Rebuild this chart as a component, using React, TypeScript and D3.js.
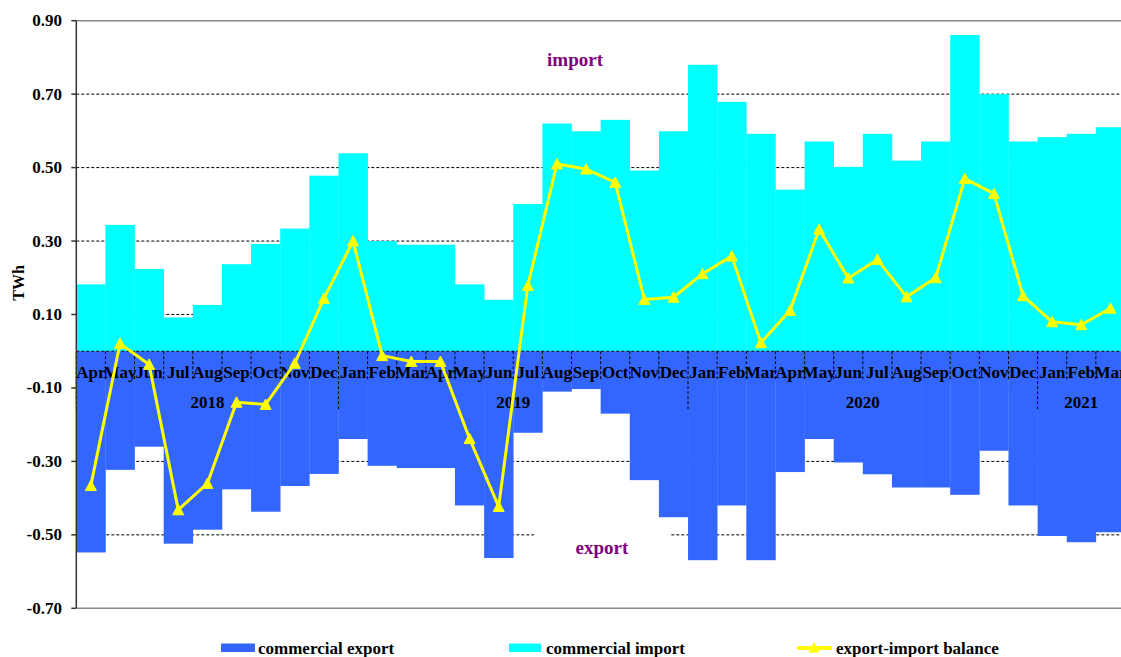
import React from "react";
import * as d3 from "d3";

const months = ["Apr","May","Jun","Jul","Aug","Sep","Oct","Nov","Dec","Jan","Feb","Mar","Apr","May","Jun","Jul","Aug","Sep","Oct","Nov","Dec","Jan","Feb","Mar","Apr","May","Jun","Jul","Aug","Sep","Oct","Nov","Dec","Jan","Feb","Mar"];
const years = ["2018", "2019", "2020", "2021"];
const importValues = [0.182,0.344,0.224,0.092,0.126,0.237,0.292,0.334,0.478,0.539,0.300,0.290,0.290,0.182,0.140,0.401,0.620,0.599,0.630,0.492,0.599,0.780,0.679,0.592,0.440,0.571,0.502,0.592,0.519,0.571,0.861,0.700,0.571,0.583,0.592,0.610];
const exportValues = [-0.548,-0.323,-0.260,-0.524,-0.486,-0.376,-0.437,-0.367,-0.334,-0.239,-0.312,-0.318,-0.318,-0.420,-0.563,-0.222,-0.110,-0.103,-0.170,-0.351,-0.452,-0.569,-0.420,-0.569,-0.329,-0.239,-0.303,-0.335,-0.371,-0.371,-0.391,-0.271,-0.420,-0.503,-0.520,-0.493];
const balanceValues = [-0.366,0.021,-0.036,-0.432,-0.360,-0.139,-0.145,-0.033,0.144,0.300,-0.012,-0.028,-0.028,-0.238,-0.423,0.179,0.510,0.496,0.460,0.141,0.147,0.211,0.259,0.023,0.111,0.332,0.199,0.250,0.148,0.200,0.470,0.429,0.151,0.080,0.072,0.117];
const yTicks = [-0.7, -0.5, -0.3, -0.1, 0.1, 0.3, 0.5, 0.7, 0.9];
const legendLabels = ["commercial export", "commercial import", "export-import balance"];

const W = 1121, H = 657;
const FONT = "'Liberation Serif', 'Times New Roman', serif";
const BLUE = "#3366FF", CYAN = "#00FFFF", YELLOW = "#FFFF00", PURPLE = "#800080";

export default function App() {
  const x = d3.scaleBand<number>().domain(d3.range(months.length)).range([76.3, 1125]).padding(0);
  const y = d3.scaleLinear().domain([-0.7, 0.9]).range([608.3, 20.7]);
  const y0 = y(0);
  const bw = x.bandwidth();
  const xl = x(0)!;

  const line = d3.line<number>().x((_, i) => x(i)! + bw / 2).y(d => y(d));

  // year groups
  const boundaries: number[] = [0];
  months.forEach((m, i) => { if (m === "Jan" && i > 0) boundaries.push(i); });
  boundaries.push(months.length);

  const tri = (cx: number, cy: number, s = 5.5) =>
    `M${cx},${cy - s} L${cx + s},${cy + s * 0.9} L${cx - s},${cy + s * 0.9} Z`;

  return (
    <svg width={W} height={H} style={{ position: "absolute", left: 0, top: 0, background: "#fff" }} fontFamily={FONT}>
      {/* gridlines */}
      {yTicks.map((t, i) => {
        const edge = i === 0 || i === yTicks.length - 1;
        return (
          <line key={"g" + i} x1={xl} x2={W} y1={y(t)} y2={y(t)}
            stroke={edge ? "#8a8a8a" : "#000"} strokeWidth={edge ? 1.5 : 1}
            strokeDasharray={edge ? "none" : "3,2"} />
        );
      })}
      {/* bars */}
      {importValues.map((v, i) => (
        <rect key={"i" + i} x={x(i)!} y={y(v)} width={bw + 0.3} height={y0 - y(v)} fill={CYAN} />
      ))}
      {exportValues.map((v, i) => (
        <rect key={"e" + i} x={x(i)!} y={y0} width={bw + 0.3} height={y(v) - y0} fill={BLUE} />
      ))}
      {/* area labels */}
      <text x={575} y={66} textAnchor="middle" fontSize={19} fontWeight="bold" fill={PURPLE}>import</text>
      <rect x={534} y={530} width={136} height={36} fill="#fff" />
      <text x={602} y={554} textAnchor="middle" fontSize={19} fontWeight="bold" fill={PURPLE}>export</text>
      {/* category axis */}
      <line x1={xl} x2={W} y1={y0} y2={y0} stroke="#000" strokeWidth={1} strokeDasharray="3,2" />
      {months.map((_, i) => {
        const isYear = boundaries.includes(i);
        return (
          <line key={"s" + i} x1={x(i)!} x2={x(i)!} y1={y0} y2={y0 + (isYear ? 59 : 29)}
            stroke="#000" strokeWidth={1} strokeDasharray="3,2" />
        );
      })}
      {months.map((m, i) => (
        <text key={"m" + i} x={x(i)! + bw / 2} y={y0 + 26.5} textAnchor="middle" fontSize={17} fontWeight="bold" fill="#000">{m}</text>
      ))}
      {years.map((yr, k) => {
        const a = boundaries[k], b = boundaries[k + 1];
        const cx = (x(a)! + (x(b - 1)! + bw)) / 2;
        return (
          <text key={"y" + k} x={cx} y={y0 + 57} textAnchor="middle" fontSize={17} fontWeight="bold" fill="#000">{yr}</text>
        );
      })}
      {/* y axis */}
      <line x1={xl} x2={xl} y1={y(0.9)} y2={y(-0.7)} stroke="#333" strokeWidth={1.5} />
      {yTicks.map((t, i) => (
        <g key={"t" + i}>
          <line x1={xl - 5} x2={xl} y1={y(t)} y2={y(t)} stroke="#333" strokeWidth={1.5} />
          <text x={62} y={y(t) + 5.5} textAnchor="end" fontSize={17} fontWeight="bold" fill="#000">{t.toFixed(2)}</text>
        </g>
      ))}
      <text transform={`translate(24,283) rotate(-90)`} textAnchor="middle" fontSize={16} fontWeight="bold" fill="#000">TWh</text>
      {/* balance line */}
      <path d={line(balanceValues) || ""} fill="none" stroke={YELLOW} strokeWidth={3} strokeLinejoin="round" />
      {balanceValues.map((v, i) => (
        <path key={"b" + i} d={tri(x(i)! + bw / 2, y(v))} fill={YELLOW} stroke={YELLOW} strokeWidth={1} />
      ))}
      {/* legend */}
      <rect x={221} y={643.5} width={34} height={8.5} fill={BLUE} />
      <text x={258} y={654} fontSize={17} fontWeight="bold" fill="#000">{legendLabels[0]}</text>
      <rect x={509} y={643.5} width={32} height={8.5} fill={CYAN} />
      <text x={546} y={654} fontSize={17} fontWeight="bold" fill="#000">{legendLabels[1]}</text>
      <line x1={797} x2={832} y1={648} y2={648} stroke={YELLOW} strokeWidth={4} />
      <path d={tri(814, 647.5, 5.5)} fill={YELLOW} />
      <text x={836} y={654} fontSize={17} fontWeight="bold" fill="#000">{legendLabels[2]}</text>
    </svg>
  );
}
